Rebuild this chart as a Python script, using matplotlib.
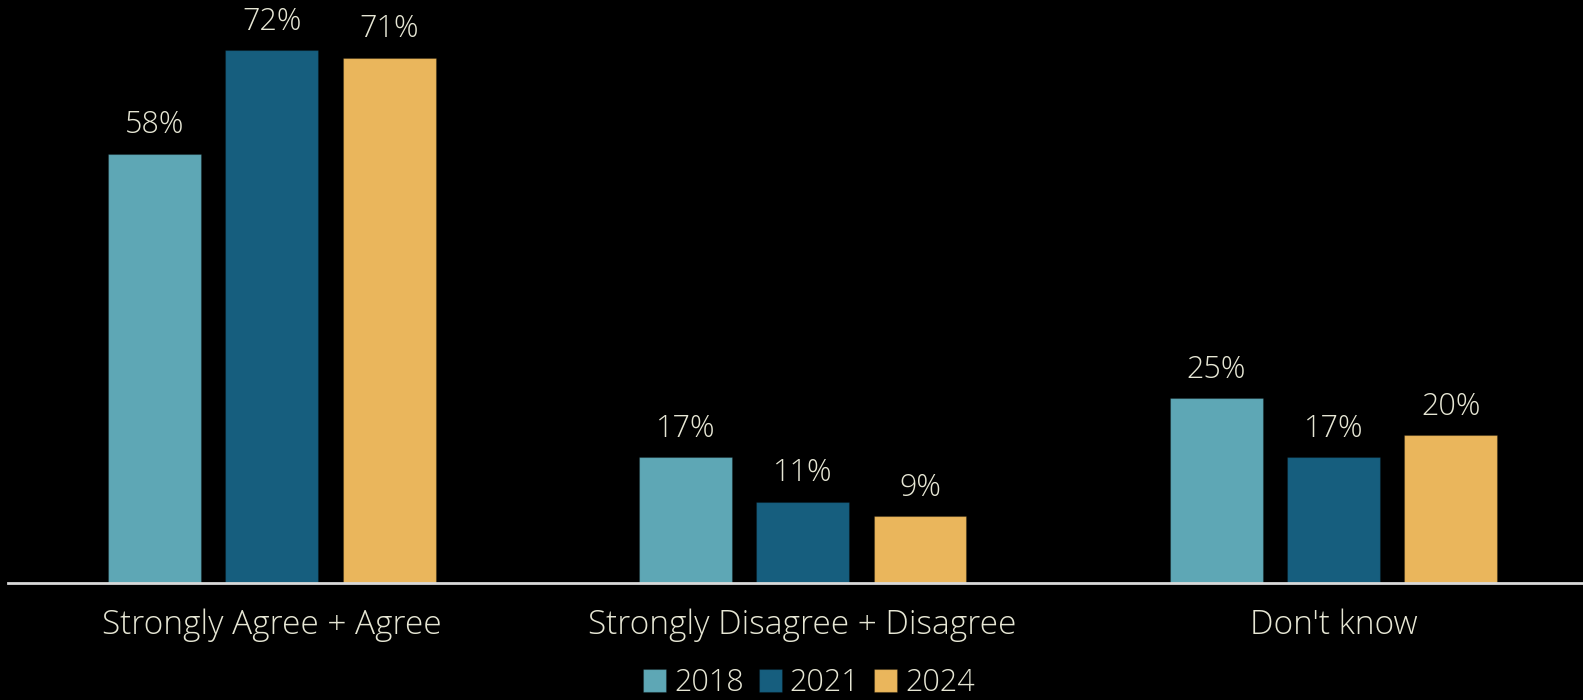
import matplotlib.pyplot as plt
import numpy as np

# data
categories = ["Strongly Agree + Agree", "Strongly Disagree + Disagree", "Don't know"]
years = ["2018", "2021", "2024"]
v2018 = [58, 17, 25]
v2021 = [72, 11, 17]
v2024 = [71, 9, 20]

colors = ["#5EA7B5", "#165E7E", "#EAB65C"]
text_color = "#E6E6D4"

plt.rcParams['font.family'] = ['Open Sans', 'DejaVu Sans']
plt.rcParams['font.weight'] = 'light'

fig = plt.figure(figsize=(15.83, 7), dpi=100, facecolor='black')
ax = fig.add_axes([8 / 1583, 117 / 700, 1 - 8 / 1583, 583 / 700])
ax.set_facecolor('black')

x = np.arange(len(categories))
width = 0.175
offset = 0.221

for i, (vals, year) in enumerate(zip([v2018, v2021, v2024], years)):
    bars = ax.bar(x + (i - 1) * offset, vals, width, color=colors[i],
                  edgecolor='#00000040', linewidth=0.8, label=year)
    for b, v in zip(bars, vals):
        ax.annotate(f"{v}%", (b.get_x() + b.get_width() / 2, v),
                    xytext=(0, 9), textcoords='offset points',
                    ha='center', va='bottom', fontsize=22, color=text_color)

ax.set_xlim(-0.497, 2.47)
ax.set_ylim(0, 78.8)

for s in ['top', 'right', 'left']:
    ax.spines[s].set_visible(False)
ax.spines['bottom'].set_color('#D9D9D9')
ax.spines['bottom'].set_linewidth(2)

ax.set_yticks([])
ax.set_xticks(x)
ax.set_xticklabels(categories, fontsize=24, color=text_color)
ax.tick_params(axis='x', length=0, pad=18)

leg = fig.legend(loc='center', bbox_to_anchor=(809 / 1583, 17 / 700), ncol=3,
                 frameon=False, fontsize=22, handlelength=0.75, handleheight=0.75,
                 handletextpad=0.25, columnspacing=0.5, borderpad=0.1)
for t in leg.get_texts():
    t.set_color(text_color)

plt.savefig("out.png", dpi=100, facecolor='black')
